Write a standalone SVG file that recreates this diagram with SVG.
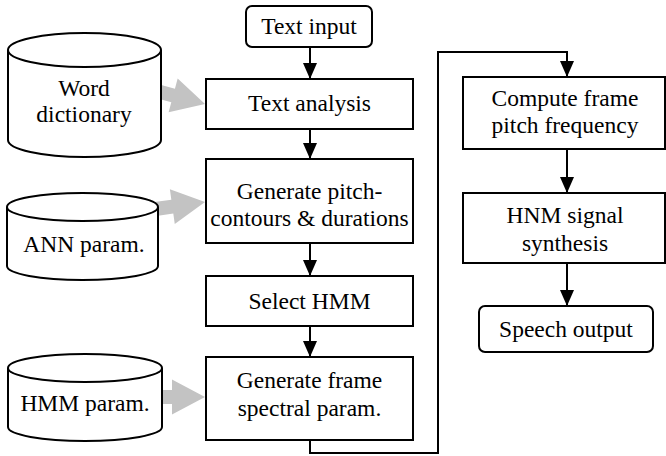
<svg xmlns="http://www.w3.org/2000/svg" width="666" height="456" viewBox="0 0 666 456" font-family="Liberation Serif">
<defs>
<style>
.box{fill:#fff;stroke:#000;stroke-width:2}
.db{fill:#fff;stroke:#000;stroke-width:2}
.t{font-family:'Liberation Serif',serif;font-size:23.5px;fill:#000;text-anchor:middle}
.c{fill:none;stroke:#000;stroke-width:2}
.g{fill:#c3c3c3;stroke:none}
</style>
<marker id="ah" markerUnits="userSpaceOnUse" markerWidth="16" markerHeight="14" refX="16" refY="7" orient="auto">
<path d="M0,0 L16,7 L0,14 z" fill="#000"/>
</marker>
</defs>
<rect width="666" height="456" fill="#fff"/>

<g id="connectors">
<line class="c" x1="310" y1="47" x2="310" y2="79" marker-end="url(#ah)"/>
<line class="c" x1="310" y1="129" x2="310" y2="159" marker-end="url(#ah)"/>
<line class="c" x1="310" y1="243" x2="310" y2="276" marker-end="url(#ah)"/>
<line class="c" x1="310" y1="326" x2="310" y2="357" marker-end="url(#ah)"/>
<polyline class="c" points="310,440 310,453 438,453 438,52 567,52 567,77" marker-end="url(#ah)"/>
<line class="c" x1="567" y1="149" x2="567" y2="193" marker-end="url(#ah)"/>
<line class="c" x1="567" y1="263" x2="567" y2="306" marker-end="url(#ah)"/>
<polygon class="g" transform="translate(205,104) rotate(15)" points="0,0 -33,-17.5 -33,-7 -50,-7 -50,7 -33,7 -33,17.5"/>
<polygon class="g" transform="translate(205,202) rotate(-8)" points="0,0 -33,-17.5 -33,-7 -50,-7 -50,7 -33,7 -33,17.5"/>
<polygon class="g" transform="translate(205,397)" points="0,0 -33,-17.5 -33,-7 -50,-7 -50,7 -33,7 -33,17.5"/>
</g>

<g id="word-dictionary">
<path class="db" d="M8,50 L8,140 A76.5,17 0 0 0 161,140 L161,50"/>
<ellipse class="db" cx="84.5" cy="50" rx="76.5" ry="17"/>
<text class="t" font-family="Liberation Serif" x="84" y="96">Word</text>
<text class="t" font-family="Liberation Serif" x="84" y="122">dictionary</text>
</g>

<g id="ann-param">
<path class="db" d="M7,207 L7,266 A75.5,14 0 0 0 158,266 L158,207"/>
<ellipse class="db" cx="82.5" cy="207" rx="75.5" ry="14"/>
<text class="t" font-family="Liberation Serif" x="84" y="252">ANN param.</text>
</g>

<g id="hmm-param">
<path class="db" d="M8,368 L8,427 A77,14 0 0 0 162,427 L162,368"/>
<ellipse class="db" cx="85" cy="368" rx="77" ry="14"/>
<text class="t" font-family="Liberation Serif" x="85" y="411">HMM param.</text>
</g>

<g id="text-input">
<rect class="box" x="246" y="6" width="126" height="41" rx="6"/>
<text class="t" font-family="Liberation Serif" x="309" y="34">Text input</text>
</g>

<g id="text-analysis">
<rect class="box" x="206" y="79" width="207" height="50"/>
<text class="t" font-family="Liberation Serif" x="309.5" y="111">Text analysis</text>
</g>

<g id="generate-pitch">
<rect class="box" x="206" y="159" width="207" height="84"/>
<text class="t" font-family="Liberation Serif" x="309.5" y="199">Generate pitch-</text>
<text class="t" font-family="Liberation Serif" x="309.5" y="226">contours &amp; durations</text>
</g>

<g id="select-hmm">
<rect class="box" x="206" y="276" width="207" height="50"/>
<text class="t" font-family="Liberation Serif" x="309.5" y="309">Select HMM</text>
</g>

<g id="generate-frame">
<rect class="box" x="206" y="357" width="207" height="83"/>
<text class="t" font-family="Liberation Serif" x="309.5" y="388">Generate frame</text>
<text class="t" font-family="Liberation Serif" x="309.5" y="416">spectral param.</text>
</g>

<g id="compute-pitch">
<rect class="box" x="463" y="77" width="202" height="72"/>
<text class="t" font-family="Liberation Serif" x="565" y="106">Compute frame</text>
<text class="t" font-family="Liberation Serif" x="565" y="133">pitch frequency</text>
</g>

<g id="hnm-synthesis">
<rect class="box" x="463" y="193" width="202" height="70"/>
<text class="t" font-family="Liberation Serif" x="565" y="223">HNM signal</text>
<text class="t" font-family="Liberation Serif" x="565" y="251">synthesis</text>
</g>

<g id="speech-output">
<rect class="box" x="479" y="306" width="174" height="46" rx="6"/>
<text class="t" font-family="Liberation Serif" x="566" y="337">Speech output</text>
</g>
</svg>
